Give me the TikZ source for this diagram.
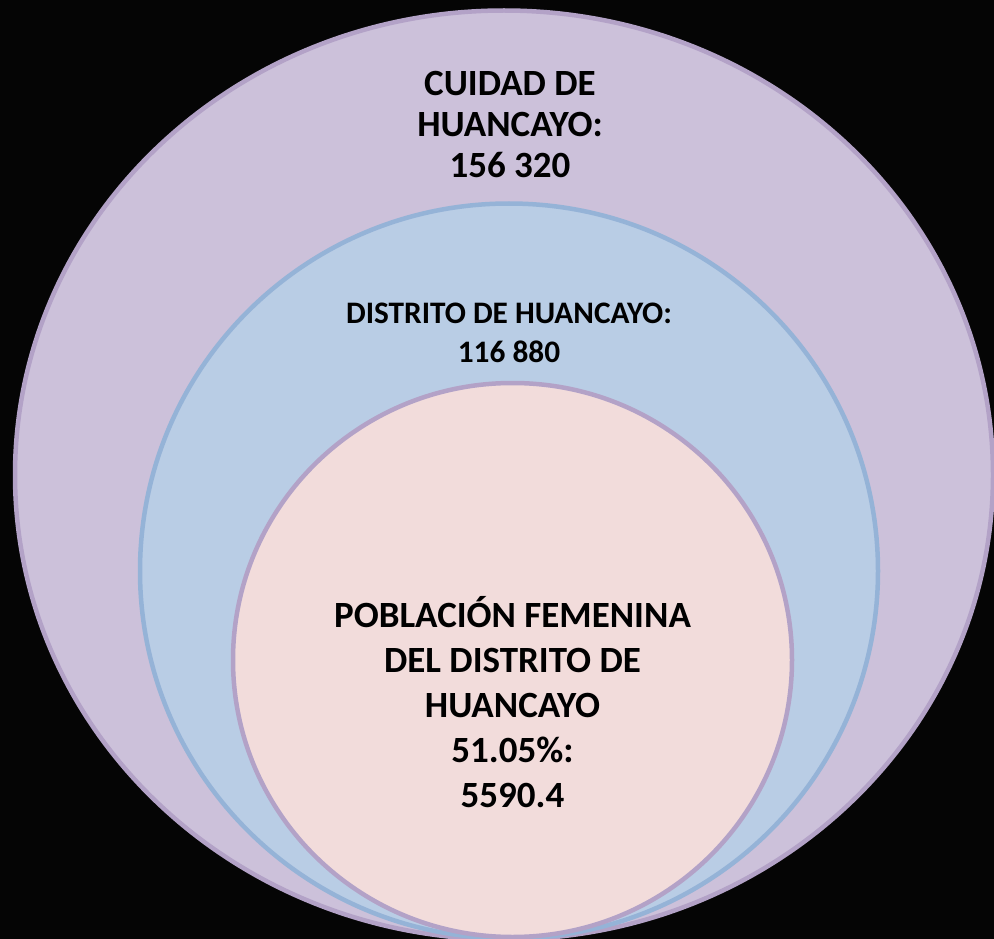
\documentclass[tikz,border=0pt]{standalone}
\usepackage{fontspec}
\setmainfont{Carlito}
\usetikzlibrary{shapes.geometric, positioning}
\definecolor{cityfill}{HTML}{CCC1DA}
\definecolor{cityline}{HTML}{B3A2C7}
\definecolor{distfill}{HTML}{B9CDE5}
\definecolor{distline}{HTML}{95B3D7}
\definecolor{womenfill}{HTML}{F2DCDB}
\tikzset{
x=1pt, y=-1pt, % one unit is one pixel of the reference, y grows downwards
ring/.style={ellipse, inner sep=0pt, outer sep=0pt, line width=4.5pt}, % sets the properties for each ring
caption/.style={align=center, inner sep=0pt, font=\bfseries}, % sets the properties for each text
}

\begin{document}
\begin{tikzpicture}
\fill[black!98] (0,0) rectangle (994,939);
\useasboundingbox (0,0) rectangle (994,939);
\node[ring, fill=cityfill, draw=cityline, minimum width=978pt, minimum height=929pt] (city) at (504,475) {};
\node[ring, fill=distfill, draw=distline, minimum width=738pt, minimum height=735pt] (district) at (509,571) {};
\node[ring, fill=womenfill, draw=cityline, minimum width=559pt, minimum height=554pt] (women) at (512.5,660) {};
\node[caption, font=\bfseries\fontsize{37}{41}\selectfont] (citytext) at (510,125) {CUIDAD DE\\HUANCAYO:\\156 320};
\node[caption, font=\bfseries\fontsize{31.3}{39}\selectfont] (disttext) at (509,332.5) {DISTRITO DE HUANCAYO:\\116 880};
\node[caption, font=\bfseries\fontsize{37}{45}\selectfont] (womentext) at (512.5,702) {POBLACIÓN FEMENINA\\DEL DISTRITO DE\\HUANCAYO\\51.05\%:\\5590.4};
\end{tikzpicture}
\end{document}
